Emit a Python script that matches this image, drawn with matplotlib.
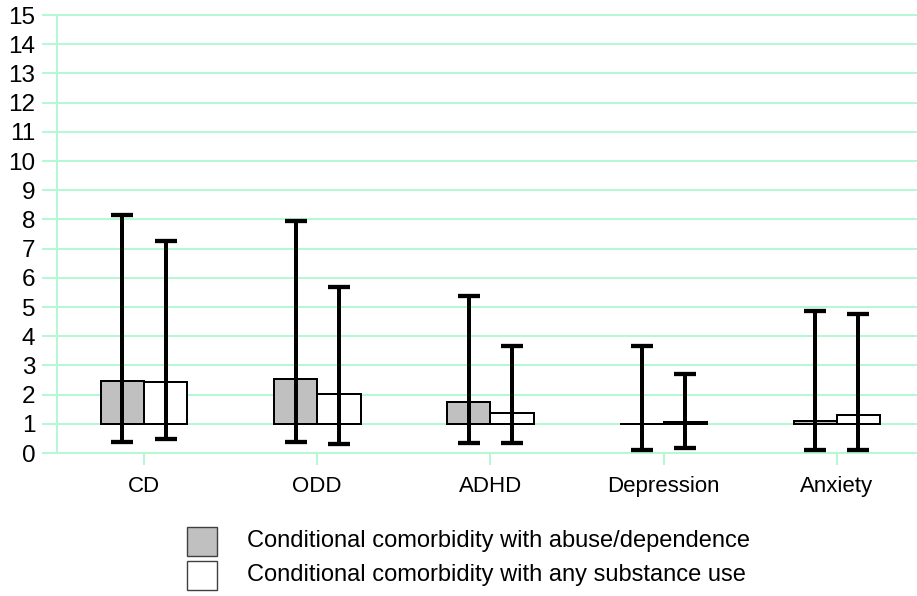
import matplotlib
matplotlib.use("Agg")
import matplotlib.pyplot as plt
import numpy as np
from matplotlib.patches import Rectangle

plt.rcParams['font.family'] = ['Liberation Sans', 'DejaVu Sans']

categories = ["CD", "ODD", "ADHD", "Depression", "Anxiety"]

# Odds ratios with 95% confidence limits
abuse_or = [2.48, 2.53, 1.74, 1.00, 1.08]
abuse_lo = [0.36, 0.36, 0.33, 0.09, 0.09]
abuse_hi = [8.14, 7.94, 5.39, 3.67, 4.87]

any_or = [2.43, 2.02, 1.37, 1.07, 1.29]
any_lo = [0.47, 0.32, 0.33, 0.16, 0.09]
any_hi = [7.26, 5.68, 3.67, 2.69, 4.77]

series_labels = ["Conditional comorbidity with abuse/dependence",
                 "Conditional comorbidity with any substance use"]
series_colors = ["#c0c0c0", "white"]

grid_col = "#b4f8d4"
W, H = 917, 596
PX = 0.72  # points per pixel at 100 dpi
fig = plt.figure(figsize=(W / 100, H / 100), dpi=100)
ax = fig.add_axes([57.4 / W, (H - 453) / H, 866 / W, 438 / H])

x = np.arange(len(categories))
bw = 0.25
baseline = 1.0

for xs, vals, lo, hi, fc in [
    (x - bw / 2, abuse_or, abuse_lo, abuse_hi, series_colors[0]),
    (x + bw / 2, any_or, any_lo, any_hi, series_colors[1]),
]:
    vals = np.array(vals)
    ax.bar(xs, vals - baseline, bottom=baseline, width=bw, color=fc,
           edgecolor="black", linewidth=2 * PX, zorder=3)
    ax.errorbar(xs, vals, yerr=[vals - np.array(lo), np.array(hi) - vals],
                fmt="none", ecolor="black", elinewidth=4 * PX,
                capsize=11.5 * PX, capthick=4.3 * PX, zorder=4)

ax.set_xlim(-0.5, 4.5)
ax.set_ylim(0, 15)
ax.set_yticks(range(0, 16))
ax.set_xticks(x)
ax.set_xticklabels(categories, fontsize=16)
ax.tick_params(axis="y", labelsize=17.5, length=15 * PX, width=2 * PX,
               color=grid_col, pad=7 * PX)
ax.tick_params(axis="x", length=12 * PX, width=2 * PX, color=grid_col,
               pad=11 * PX)
ax.yaxis.grid(True, color=grid_col, linewidth=2 * PX, zorder=0)
for gl in ax.get_ygridlines():
    gl.set_clip_on(False)
ax.set_axisbelow(True)
for s in ["top", "right"]:
    ax.spines[s].set_visible(False)
for s in ["left", "bottom"]:
    ax.spines[s].set_color(grid_col)
    ax.spines[s].set_linewidth(2 * PX)

# Legend keys and labels below the plot
key_tops = [527, 561]
for top, label, fc in zip(key_tops, series_labels, series_colors):
    fig.add_artist(Rectangle((187 / W, 1 - (top + 29) / H), 30 / W, 29 / H,
                             transform=fig.transFigure, facecolor=fc,
                             edgecolor="#404040", linewidth=1))
    fig.text(247 / W, 1 - (top + 14.5) / H, label, fontsize=17,
             ha="left", va="center")

fig.savefig("out.png", dpi=100)
